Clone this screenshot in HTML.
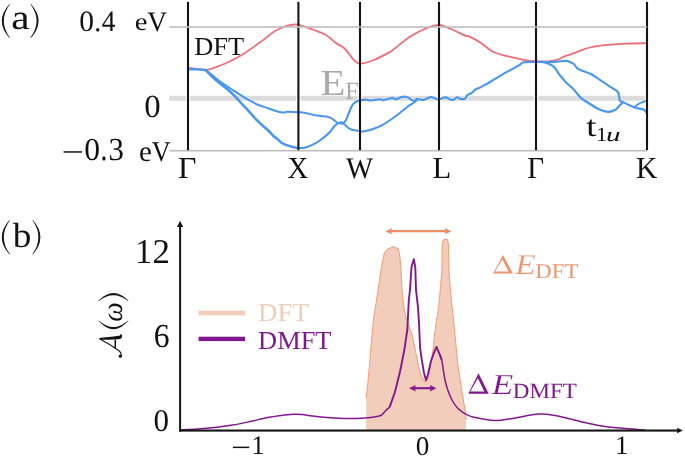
<!DOCTYPE html>
<html><head><meta charset="utf-8"><style>
html,body{margin:0;padding:0;background:#fff;}
svg{display:block;will-change:transform;font-family:"Liberation Serif",serif;text-rendering:geometricPrecision;}
</style></head><body>
<svg width="685" height="457" viewBox="0 0 685 457">
<rect width="685" height="457" fill="#fff"/>
<rect x="169.3" y="95.8" width="16.5" height="5" fill="#dcdcdc"/>
<rect x="190.2" y="95.8" width="106" height="5" fill="#dcdcdc"/>
<rect x="300.6" y="95.8" width="57.2" height="5" fill="#dcdcdc"/>
<rect x="362.2" y="95.8" width="74.6" height="5" fill="#dcdcdc"/>
<rect x="441.2" y="95.8" width="92.6" height="5" fill="#dcdcdc"/>
<rect x="538.2" y="95.8" width="106.6" height="5" fill="#dcdcdc"/>
<rect x="169.3" y="149.9" width="477.7" height="1.6" fill="#bdbdbd"/>
<text transform="matrix(0.2038 0 0 0.1840 320.38 94.8)" font-size="200" fill="#aaaaaa">E</text>
<text transform="matrix(0.1204 0 0 0.1237 345.28 99)" font-size="200" fill="#aaaaaa">F</text>
<path d="M188 68 C189.17 68.1 192.03 68.27 195 68.6 C197.97 68.93 202.53 70.17 205.8 70 C209.07 69.83 210.7 68.98 214.6 67.6 C218.5 66.22 224.33 64.02 229.2 61.7 C234.07 59.38 238.93 56.73 243.8 53.7 C248.67 50.67 254.75 46.1 258.4 43.5 C262.05 40.9 263.27 39.98 265.7 38.1 C268.13 36.22 270.57 33.82 273 32.2 C275.43 30.58 277.87 29.52 280.3 28.4 C282.73 27.28 285.17 26.15 287.6 25.5 C290.03 24.85 293 24.62 294.9 24.5 C296.8 24.38 295.82 23.88 299 24.8 C302.18 25.72 309.5 28.3 314 30 C318.5 31.7 322.33 32.83 326 35 C329.67 37.17 333 40.83 336 43 C339 45.17 341.67 46 344 48 C346.33 50 348.33 53 350 55 C351.67 57 352.33 58.57 354 60 C355.67 61.43 356.67 63.6 360 63.6 C363.33 63.6 369 61.93 374 60 C379 58.07 386.67 53.83 390 52 C393.33 50.17 390.5 51.67 394 49 C397.5 46.33 405.5 39.5 411 36 C416.5 32.5 422.33 29.83 427 28 C431.67 26.17 435 24.83 439 25 C443 25.17 446.67 27.23 451 29 C455.33 30.77 462 34.37 465 35.6 C468 36.83 466.33 35.17 469 36.4 C471.67 37.63 477.25 40.57 481 43 C484.75 45.43 488.5 49.17 491.5 51 C494.5 52.83 496.95 53.28 499 54 C501.05 54.72 501.53 54.73 503.8 55.3 C506.07 55.87 508.8 56.53 512.6 57.4 C516.4 58.27 522.7 59.83 526.6 60.5 C530.5 61.17 532.5 61.25 536 61.4 C539.5 61.55 543.93 61.7 547.6 61.4 C551.27 61.1 555.1 60.48 558 59.6 C560.9 58.72 562.67 57.05 565 56.1 C567.33 55.15 569.5 54.77 572 53.9 C574.5 53.03 577.33 51.88 580 50.9 C582.67 49.92 584.67 48.88 588 48 C591.33 47.12 595.67 46.2 600 45.6 C604.33 45 609.33 44.73 614 44.4 C618.67 44.07 622.5 43.8 628 43.6 C633.5 43.4 643.83 43.27 647 43.2" fill="none" stroke="#ef6d78" stroke-width="1.8" stroke-linejoin="round"/>
<path d="M188 69 C189.33 69.07 193.08 69.23 196 69.4 C198.92 69.57 203.92 69.9 205.5 70" fill="none" stroke="#4896ee" stroke-width="2.4" stroke-linejoin="round" stroke-linecap="round"/>
<path d="M205.5 70 C206.58 70.83 209.58 73.08 212 75 C214.42 76.92 217.33 79.53 220 81.5 C222.67 83.47 225.33 85.02 228 86.8 C230.67 88.58 233.17 90.37 236 92.2 C238.83 94.03 242.5 96.3 245 97.8 C247.5 99.3 248.87 100.05 251 101.2 C253.13 102.35 254.83 103.48 257.8 104.7 C260.77 105.92 265.93 107.5 268.8 108.5 C271.67 109.5 272.95 110.08 275 110.7 C277.05 111.32 279.48 111.92 281.1 112.2 C282.72 112.48 283.7 112.47 284.7 112.4 C285.7 112.33 284.82 111.83 287.1 111.8 C289.38 111.77 295.32 112.02 298.4 112.2 C301.48 112.38 302.52 112.33 305.6 112.9 C308.68 113.47 313.15 114.93 316.9 115.6 C320.65 116.27 325.42 116.28 328.1 116.9 C330.78 117.52 331.52 118.37 333 119.3 C334.48 120.23 335.8 121.83 337 122.5 C338.2 123.17 339 123.03 340.2 123.3 C341.4 123.57 343 123.43 344.2 124.1 C345.4 124.77 346.07 126.35 347.4 127.3 C348.73 128.25 350.07 129.18 352.2 129.8 C354.33 130.42 358.33 130.73 360.2 131 C362.07 131.27 361.27 131.73 363.4 131.4 C365.53 131.07 369.78 130.08 373 129 C376.22 127.92 379.47 126.65 382.7 124.9 C385.93 123.15 389.72 120.37 392.4 118.5 C395.08 116.63 396.53 115.45 398.8 113.7 C401.07 111.95 404.25 109.38 406 108 C407.75 106.62 407.97 106.32 409.3 105.4 C410.63 104.48 412.63 103.47 414 102.5 C415.37 101.53 416.92 100.08 417.5 99.6" fill="none" stroke="#4896ee" stroke-width="2" stroke-linejoin="round" stroke-linecap="round"/>
<path d="M205.5 70 C206.58 71.08 209.58 74.25 212 76.5 C214.42 78.75 217.33 81.3 220 83.5 C222.67 85.7 225.33 87.38 228 89.7 C230.67 92.02 233.83 95.18 236 97.4 C238.17 99.62 239.18 101.05 241 103 C242.82 104.95 244.1 106.08 246.9 109.1 C249.7 112.12 254.15 117.45 257.8 121.1 C261.45 124.75 266.18 128.52 268.8 131 C271.42 133.48 271.85 134.48 273.5 136 C275.15 137.52 277.43 139.02 278.7 140.1 C279.97 141.18 279.9 141.7 281.1 142.5 C282.3 143.3 284.1 144.2 285.9 144.9 C287.7 145.6 289.82 146.17 291.9 146.7 C293.98 147.23 297.32 147.87 298.4 148.1" fill="none" stroke="#4896ee" stroke-width="2.5" stroke-linejoin="round" stroke-linecap="round"/>
<path d="M298.4 148.1 C299.6 147.98 302.78 148.18 305.6 147.4 C308.42 146.62 312.35 145 315.3 143.4 C318.25 141.8 320.9 139.67 323.3 137.8 C325.7 135.93 327.7 134.28 329.7 132.2 C331.7 130.12 333.55 126.92 335.3 125.3 C337.05 123.68 338.72 122.97 340.2 122.5 C341.68 122.03 343 123.43 344.2 122.5 C345.4 121.57 346.47 118.9 347.4 116.9 C348.33 114.9 349 112.43 349.8 110.5 C350.6 108.57 351.27 106.7 352.2 105.3 C353.13 103.9 354.13 102.9 355.4 102.1 C356.67 101.3 358.2 100.92 359.8 100.5 C361.4 100.08 363.05 99.6 365 99.6 C366.95 99.6 369.08 100.57 371.5 100.5 C373.92 100.43 377.5 99.25 379.5 99.2 C381.5 99.15 381.35 100.4 383.5 100.2 C385.65 100 390.38 98.17 392.4 98 C394.42 97.83 394 99.37 395.6 99.2 C397.2 99.03 400.3 97.42 402 97 C403.7 96.58 404.67 96.57 405.8 96.7 C406.93 96.83 407.82 97.22 408.8 97.8 C409.78 98.38 410.83 99.7 411.7 100.2 C412.57 100.7 413.13 101 414 100.8 C414.87 100.6 415.92 99.23 416.9 99 C417.88 98.77 418.82 99.23 419.9 99.4 C420.98 99.57 422.23 100.17 423.4 100 C424.57 99.83 425.63 98.9 426.9 98.4 C428.17 97.9 429.65 97 431 97 C432.35 97 433.75 97.97 435 98.4 C436.25 98.83 437.13 99.7 438.5 99.6 C439.87 99.5 441.83 98.15 443.2 97.8 C444.57 97.45 445.53 97.2 446.7 97.5 C447.87 97.8 449.03 99.22 450.2 99.6 C451.37 99.98 452.53 100.18 453.7 99.8 C454.87 99.42 456.03 97.43 457.2 97.3 C458.37 97.17 459.33 98.82 460.7 99 C462.07 99.18 464.32 99.08 465.4 98.4 C466.48 97.72 466.42 95.67 467.2 94.9 C467.98 94.13 469.13 94.28 470.1 93.8 C471.07 93.32 472.22 92.65 473 92 C473.78 91.35 473.47 90.72 474.8 89.9 C476.13 89.08 479.08 88.05 481 87.1 C482.92 86.15 483.97 85.57 486.3 84.2 C488.63 82.83 492.08 80.65 495 78.9 C497.92 77.15 500.87 75.37 503.8 73.7 C506.73 72.03 509.97 70.37 512.6 68.9 C515.23 67.43 517.87 65.95 519.6 64.9 C521.33 63.85 521.27 63.1 523 62.6 C524.73 62.1 527.83 62.02 530 61.9 C532.17 61.78 533.95 61.9 536 61.9 C538.05 61.9 541.25 61.9 542.3 61.9" fill="none" stroke="#4896ee" stroke-width="2.1" stroke-linejoin="round" stroke-linecap="round"/>
<path d="M542.3 61.9 C543.47 62.25 547.25 63.07 549.3 64 C551.35 64.93 553.13 66.03 554.6 67.5 C556.07 68.97 556.93 71.18 558.1 72.8 C559.27 74.42 560.13 75.45 561.6 77.2 C563.07 78.95 565.15 81.55 566.9 83.3 C568.65 85.05 570.35 85.95 572.1 87.7 C573.85 89.45 575.85 92.02 577.4 93.8 C578.95 95.58 579.08 96.57 581.4 98.4 C583.72 100.23 588.47 103.03 591.3 104.8 C594.13 106.57 595.55 107.82 598.4 109 C601.25 110.18 605.55 111.78 608.4 111.9 C611.25 112.02 613.73 110.65 615.5 109.7 C617.27 108.75 617.82 107.38 619 106.2 C620.18 105.02 622 103.2 622.6 102.6" fill="none" stroke="#4896ee" stroke-width="2.2" stroke-linejoin="round" stroke-linecap="round"/>
<path d="M542.3 61.9 C544.35 61.9 550.8 62.07 554.6 61.9 C558.4 61.73 562.77 60.98 565.1 60.9 C567.43 60.82 567.13 60.88 568.6 61.4 C570.07 61.92 572.25 62.7 573.9 64 C575.55 65.3 575.6 67.5 578.5 69.2 C581.4 70.9 587.73 72.42 591.3 74.2 C594.87 75.98 597.05 78 599.9 79.9 C602.75 81.8 606.03 84.07 608.4 85.6 C610.77 87.13 612.45 87.92 614.1 89.1 C615.75 90.28 617.35 90.8 618.3 92.7 C619.25 94.6 619.08 98.97 619.8 100.5 C620.52 102.03 620.23 100.77 622.6 101.9 C624.97 103.03 630.45 106 634 107.3 C637.55 108.6 641.77 108.7 643.9 109.7 C646.03 110.7 646.32 112.7 646.8 113.3" fill="none" stroke="#4896ee" stroke-width="2.1" stroke-linejoin="round" stroke-linecap="round"/>
<path d="M634 107.3 C634.95 106.63 637.82 104.32 639.7 103.3 C641.58 102.28 644.08 101.58 645.3 101.2 C646.52 100.82 646.72 101.03 647 101" fill="none" stroke="#4896ee" stroke-width="1.8" stroke-linejoin="round" stroke-linecap="round"/>
<rect x="186.95" y="1.9" width="2.1" height="148.3" fill="#151515"/>
<rect x="297.35" y="1.9" width="2.1" height="148.3" fill="#151515"/>
<rect x="358.95" y="1.9" width="2.1" height="148.3" fill="#151515"/>
<rect x="437.95" y="1.9" width="2.1" height="148.3" fill="#151515"/>
<rect x="534.95" y="1.9" width="2.1" height="148.3" fill="#151515"/>
<rect x="645.95" y="1.9" width="2.1" height="148.3" fill="#151515"/>
<rect x="169.3" y="26.2" width="477.7" height="1.6" fill="#bdbdbd"/>
<path d="M9.5 3.9 Q-5.9 20.9 9.5 37.9 L9.9 37.6 Q-2.3 20.9 9.9 4.2 Z" fill="#151515"/>
<text transform="matrix(0.2063 0 0 0.1750 11.36 29.25)" font-size="200" fill="#111">a</text>
<path d="M30.9 3.9 Q46.3 20.9 30.9 37.9 L30.5 37.6 Q42.7 20.9 30.5 4.2 Z" fill="#151515"/>
<text transform="matrix(0.1476 0 0 0.1481 79.22 30.7)" font-size="200" fill="#111">0</text>
<text transform="matrix(0.1375 0 0 0.1500 94.21 30.55)" font-size="200" fill="#111">.</text>
<text transform="matrix(0.1366 0 0 0.1477 101.65 30.5)" font-size="200" fill="#111">4</text>
<text transform="matrix(0.1432 0 0 0.1260 134.65 30.35)" font-size="200" fill="#111">e</text>
<text transform="matrix(0.1364 0 0 0.1410 147.13 30.58)" font-size="200" fill="#111">V</text>
<text transform="matrix(0.1322 0 0 0.1298 194.21 55)" font-size="200" fill="#111">DFT</text>
<text transform="matrix(0.1643 0 0 0.1607 144.29 116.58)" font-size="200" fill="#111">0</text>
<rect x="63.6" y="151.2" width="18.4" height="1.5" fill="#151515"/>
<text transform="matrix(0.1583 0 0 0.1593 84.33 160.48)" font-size="200" fill="#111">0</text>
<text transform="matrix(0.1375 0 0 0.1750 100.41 160.28)" font-size="200" fill="#111">.</text>
<text transform="matrix(0.1542 0 0 0.1604 108.41 160.48)" font-size="200" fill="#111">3</text>
<text transform="matrix(0.1446 0 0 0.1458 139.04 161.41)" font-size="200" fill="#111">e</text>
<text transform="matrix(0.1307 0 0 0.1425 151.74 161.27)" font-size="200" fill="#111">V</text>
<text transform="matrix(0.1592 0 0 0.1527 178.04 178)" font-size="200" fill="#111">Γ</text>
<text transform="matrix(0.1431 0 0 0.1527 287.43 178)" font-size="200" fill="#111">X</text>
<text transform="matrix(0.1436 0 0 0.1493 346 177.55)" font-size="200" fill="#111">W</text>
<text transform="matrix(0.1538 0 0 0.1527 432.48 178)" font-size="200" fill="#111">L</text>
<text transform="matrix(0.1456 0 0 0.1527 527.13 178)" font-size="200" fill="#111">Γ</text>
<text transform="matrix(0.1471 0 0 0.1527 636.12 178)" font-size="200" fill="#111">K</text>
<text transform="matrix(0.1827 0 0 0.1478 586.13 135.7)" font-size="200" fill="#111">t</text>
<text transform="matrix(0.1127 0 0 0.0992 596.08 140.6)" font-size="200" fill="#111">1</text>
<text transform="matrix(0.1458 0 0 0.0989 606.04 140.6)" font-size="200" font-style="italic" fill="#111">u</text>
<path d="M366.2 430 L366.2 398 L367.5 387 L369.6 364 L371.5 340 L373.8 317 L376.4 301.3 L379 283.8 L381.6 266.3 L384.3 253.1 L388 249 L393 246.7 L398.3 248.8 L400 257.5 L401.3 275 L402 290 L403.7 306.4 L405.9 317.4 L409.7 328.3 L412.3 335 L414.8 348.1 L417.5 361.2 L420.7 374.3 L423 379.5 L425.5 382 L427.5 379.5 L429.3 374.3 L431.2 361.2 L433.2 348.1 L434.5 335 L436 323 L437.5 315 L438.8 305.2 L440.5 287.6 L441.9 270.1 L442.2 246 L443 240.5 L445.3 238.9 L447.5 239.8 L448.4 243.8 L448.9 270 L450.2 287.6 L451.9 305.2 L453 315 L455.2 337.4 L457.9 364.8 L462 392.2 L464.8 408.6 L466.1 419.6 L466.1 430 Z" fill="#f2cdbc"/>
<path d="M366.2 398 L367.5 387 L369.6 364 L371.5 340 L373.8 317 L376.4 301.3 L379 283.8 L381.6 266.3 L384.3 253.1 L388 249 L393 246.7 L398.3 248.8 L400 257.5 L401.3 275 L402 290 L403.7 306.4 L405.9 317.4 L409.7 328.3 L412.3 335 L414.8 348.1 L417.5 361.2 L420.7 374.3 L423 379.5 L425.5 382 L427.5 379.5 L429.3 374.3 L431.2 361.2 L433.2 348.1 L434.5 335 L436 323 L437.5 315 L438.8 305.2 L440.5 287.6 L441.9 270.1 L442.2 246 L443 240.5 L445.3 238.9 L447.5 239.8 L448.4 243.8 L448.9 270 L450.2 287.6 L451.9 305.2 L453 315 L455.2 337.4 L457.9 364.8 L462 392.2 L464.8 408.6 L466.1 419.6" fill="none" stroke="#f2a27e" stroke-width="1.1" stroke-linejoin="round"/>
<path d="M180 429.8 C182.92 429.65 191.67 429.28 197.5 428.9 C203.33 428.52 209.15 428.13 215 427.5 C220.85 426.87 226.75 426.08 232.6 425.1 C238.45 424.12 244.27 422.85 250.1 421.6 C255.93 420.35 261.77 418.7 267.6 417.6 C273.43 416.5 280.7 415.57 285.1 415 C289.5 414.43 291.18 414.27 294 414.2 C296.82 414.13 298.5 414.25 302 414.6 C305.5 414.95 310.33 415.77 315 416.3 C319.67 416.83 324.58 417.42 330 417.8 C335.42 418.18 341.67 418.55 347.5 418.6 C353.33 418.65 360.92 418.32 365 418.1 C369.08 417.88 369.37 417.73 372 417.3 C374.63 416.87 378.47 416.67 380.8 415.5 C383.13 414.33 384.53 411.7 386 410.3 C387.47 408.9 389 407.63 389.6 407.1" fill="none" stroke="#80188f" stroke-width="1.5" stroke-linejoin="round"/>
<path d="M389.6 407.1 L394.8 392.5 L400 371.7 L404.2 350.8 L407.3 330 L408.8 300 L410 290 L411.5 267 L413.8 259.2 L415.3 267.5 L416 290 L417.9 306.4 L419 322.8 L420.1 348.1 L422 361.2 L424 373 L426 380.2 L428 374.3 L430.6 362.5 L433.2 354.7 L436.5 346.8 L439.8 354.7 L441.7 359.9" fill="none" stroke="#80188f" stroke-width="1.9" stroke-linejoin="round"/>
<path d="M439.8 354.7 C440.12 355.57 441.13 357.52 441.7 359.9 C442.27 362.28 442.65 365.65 443.2 369 C443.75 372.35 444.15 376.25 445 380 C445.85 383.75 447.05 388 448.3 391.5 C449.55 395 450.88 398.17 452.5 401 C454.12 403.83 455.87 406.37 458 408.5 C460.13 410.63 462.63 412.33 465.3 413.8 C467.97 415.27 469.05 416.18 474 417.3 C478.95 418.42 488.57 420.32 495 420.5 C501.43 420.68 505.3 419.48 512.6 418.4 C519.9 417.32 531.5 414.43 538.8 414 C546.1 413.57 549.53 414.57 556.4 415.8 C563.27 417.03 572.92 419.78 580 421.4 C587.08 423.02 592.35 424.38 598.9 425.5 C605.45 426.62 611.5 427.35 619.3 428.1 C627.1 428.85 641.3 429.68 645.7 430" fill="none" stroke="#80188f" stroke-width="1.5" stroke-linejoin="round"/>
<rect x="179.1" y="226" width="2" height="205.6" fill="#151515"/>
<path d="M180.1 220.8 L177 226.9 L183.2 226.9 Z" fill="#151515"/>
<rect x="179.1" y="429.5" width="499" height="2.1" fill="#151515"/>
<path d="M682.8 430.5 L677.2 427.8 L677.2 433.2 Z" fill="#151515"/>
<line x1="390" y1="231.2" x2="447" y2="231.2" stroke="#ee8e66" stroke-width="2.3"/>
<path d="M385.4 231.2 L392 228 L391 231.2 L392 234.4 Z" fill="#ee8e66"/>
<path d="M451.4 231.2 L444.8 228 L445.8 231.2 L444.8 234.4 Z" fill="#ee8e66"/>
<line x1="413" y1="388.2" x2="432" y2="388.2" stroke="#80188f" stroke-width="2.1"/>
<path d="M409 388.2 L415.8 385 L414.8 388.2 L415.8 391.4 Z" fill="#80188f"/>
<path d="M436.5 388.2 L429.7 385 L430.7 388.2 L429.7 391.4 Z" fill="#80188f"/>
<rect x="198.6" y="310.6" width="46.4" height="4.8" fill="#f2cdbc"/>
<rect x="198.6" y="336.7" width="46.4" height="4.4" fill="#80188f"/>
<text transform="matrix(0.1350 0 0 0.1298 258.09 320.7)" font-size="200" fill="#f2cdb8">DFT</text>
<text transform="matrix(0.1320 0 0 0.1298 258.11 348.7)" font-size="200" fill="#80188f">DMFT</text>
<path d="M9.5 219.9 Q-5.9 237.15 9.5 254.4 L9.9 254.1 Q-2.3 237.15 9.9 220.2 Z" fill="#151515"/>
<text transform="matrix(0.1870 0 0 0.1745 12.8 246.65)" font-size="200" fill="#111">b</text>
<path d="M32.9 219.9 Q47.9 237.15 32.9 254.4 L32.5 254.1 Q44.3 237.15 32.5 220.2 Z" fill="#151515"/>
<text transform="matrix(0.1690 0 0 0.1742 135.23 262.6)" font-size="200" fill="#111">1</text>
<text transform="matrix(0.1750 0 0 0.1742 152.53 262.6)" font-size="200" fill="#111">2</text>
<text transform="matrix(0.1581 0 0 0.1679 153.83 347.06)" font-size="200" fill="#111">6</text>
<text transform="matrix(0.1548 0 0 0.1585 153.46 431.48)" font-size="200" fill="#111">0</text>
<rect x="232.9" y="446.6" width="16.3" height="1.5" fill="#151515"/>
<text transform="matrix(0.1310 0 0 0.1341 251.57 453.9)" font-size="200" fill="#111">1</text>
<text transform="matrix(0.1357 0 0 0.1348 415.71 454.73)" font-size="200" fill="#111">0</text>
<text transform="matrix(0.1352 0 0 0.1333 615 453.9)" font-size="200" fill="#111">1</text>
<path d="M503 254.9 L512.9 273.6 L493.1 273.6 Z M502.35 259.58 L495.08 271.5 L508.5 271.5 Z" fill="#ee9470" fill-rule="evenodd"/>
<text transform="matrix(0.1669 0 0 0.1427 515.33 273.6)" font-size="200" font-style="italic" fill="#ee9470" stroke="#fff" stroke-width="1.5">E</text>
<text transform="matrix(0.1138 0 0 0.1046 535.32 278.2)" font-size="200" fill="#ee9470">DFT</text>
<path d="M478.5 373.3 L488.7 393.7 L468.3 393.7 Z M477.85 378.26 L470.28 391.6 L484.3 391.6 Z" fill="#80188f" fill-rule="evenodd"/>
<text transform="matrix(0.1769 0 0 0.1443 491.75 393.5)" font-size="200" font-style="italic" fill="#80188f" stroke="#fff" stroke-width="1.5">E</text>
<text transform="matrix(0.1152 0 0 0.1092 512.81 397.6)" font-size="200" fill="#80188f">DMFT</text>
<g transform="translate(97.9 357.9) rotate(-90)" fill="#151515"><path d="M37.1 0.6 Q20.1 15.55 37.1 30.5 L37.5 30.2 Q24.3 15.55 37.5 0.9 Z"/><text transform="matrix(0.1373 0 0 0.1438 36.24 23.81)" font-size="200" font-style="italic">ω</text><path d="M57.4 0.6 Q72.6 15.55 57.4 30.5 L57 30.2 Q68.4 15.55 57 0.9 Z"/></g>
<path d="M99.2 338 C104 337.5 112 336.8 119.4 335.8 C120.2 335.4 120.4 334.8 120.5 334.2 L121.5 334.3 C122.3 335.4 122.3 336.8 121.7 337.8 C121.1 338.8 120 339.1 118.5 339.2 C112 339.5 105 339.7 99.6 339.8 Z" fill="#151515"/>
<path d="M100.2 339.3 C106 342.3 113 346.4 118.4 350.3 C121.4 352.6 122.3 355.4 120 357" fill="none" stroke="#151515" stroke-width="1.15"/>
<circle cx="120.3" cy="356.2" r="1.6" fill="#151515"/>
<rect x="114.5" y="339.5" width="1.5" height="8.6" fill="#151515"/>
</svg></body></html>
